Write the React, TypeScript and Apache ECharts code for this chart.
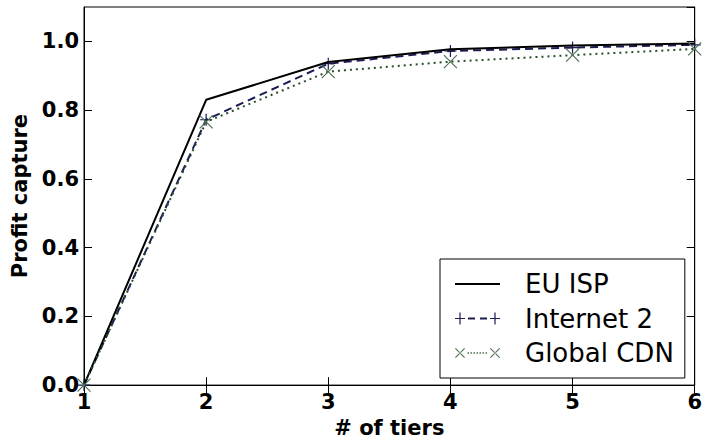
import React, { useEffect, useRef } from "react";
import * as echarts from "echarts";

const tiers = [1, 2, 3, 4, 5, 6];
const euIsp = [0, 0.83, 0.94, 0.977, 0.988, 0.994];
const internet2 = [0, 0.772, 0.935, 0.972, 0.982, 0.99];
const globalCdn = [0, 0.766, 0.912, 0.941, 0.96, 0.978];
const seriesNames = ["EU ISP", "Internet 2", "Global CDN"];

const FONT = "DejaVu Sans";
const PLUS = "path://M5,0L5,10M0,5L10,5";
const CROSS = "path://M0,0L10,10M10,0L0,10";

const NAVY = "#1c1c55";
const GREEN = "#27502a";
const GREEN_MARK = "#4f7252";

// Legend icons (filled shapes, 45 wide)
const ICON_SOLID = "path://M0,6H45V8H0Z";
const plusAt = (cx: number) =>
  `M${cx - 5},6.4H${cx + 5}V7.6H${cx - 5}Z M${cx - 0.6},1H${cx + 0.6}V13H${cx - 0.6}Z`;
const ICON_DASH =
  "path://" + plusAt(5) + " " + plusAt(40) + " M13,6H20V8H13Z M25,6H32V8H25Z";
const crossAt = (x0: number) =>
  `M${x0},1.8L${x0 + 0.8},1L${x0 + 10},10.2L${x0 + 9.2},11Z M${x0 + 10},1.8L${x0 + 9.2},1L${x0},10.2L${x0 + 0.8},11Z`;
let dots = "";
for (let x = 12.5; x < 32; x += 3) dots += ` M${x},5.25H${x + 1.5}V6.75H${x}Z`;
const ICON_DOT = "path://" + crossAt(0) + " " + crossAt(35) + dots;

export default function App() {
  const ref = useRef<HTMLDivElement>(null);
  useEffect(() => {
    if (!ref.current) return;
    const chart = echarts.init(ref.current, undefined, { renderer: "svg" });
    const pts = (ys: number[]) => tiers.map((x, i) => [x, ys[i]]);
    const labelStyle = { fontFamily: FONT, fontWeight: "bold", fontSize: 21, color: "#000" };
    const axisLine = { show: true, lineStyle: { color: "#000", width: 1 } };
    const tick = { show: true, inside: true, length: 8, lineStyle: { color: "#000", width: 1 } };
    chart.setOption({
      animation: false,
      backgroundColor: "#fff",
      grid: { left: 84, right: 6, top: 7, bottom: 50, show: true, borderColor: "#000", borderWidth: 1 },
      xAxis: [
        {
          type: "value", min: 1, max: 6, interval: 1, position: "bottom",
          axisLine, axisTick: tick, splitLine: { show: false },
          axisLabel: { ...labelStyle, margin: 6 },
          name: "# of tiers", nameLocation: "middle", nameGap: 29,
          nameTextStyle: { ...labelStyle },
        },
        {
          type: "value", min: 1, max: 6, interval: 1, position: "top",
          axisLine, axisTick: tick, splitLine: { show: false },
          axisLabel: { show: false },
        },
      ],
      yAxis: [
        {
          type: "value", min: 0, max: 1.1, interval: 0.2, position: "left",
          axisLine, axisTick: tick, splitLine: { show: false },
          axisLabel: { ...labelStyle, margin: 5, showMaxLabel: false, formatter: (v: number) => v.toFixed(1) },
          name: "Profit capture", nameLocation: "middle", nameGap: 48,
          nameTextStyle: { ...labelStyle },
        },
        {
          type: "value", min: 0, max: 1.1, interval: 0.2, position: "right",
          axisLine, axisTick: tick, splitLine: { show: false },
          axisLabel: { show: false },
        },
      ],
      legend: {
        orient: "vertical", left: 440, top: 259,
        backgroundColor: "#fff", borderColor: "#000", borderWidth: 1, borderRadius: 0,
        padding: [10, 11, 10, 15], itemGap: 4.5, itemWidth: 45, itemHeight: 14,
        textStyle: { fontFamily: FONT, fontSize: 26, color: "#000", lineHeight: 30, padding: [0, 0, 0, 20] },
        data: [
          { name: seriesNames[0], icon: ICON_SOLID, itemStyle: { color: "#000", borderWidth: 0 } },
          { name: seriesNames[1], icon: ICON_DASH, itemStyle: { color: NAVY, borderWidth: 0 } },
          { name: seriesNames[2], icon: ICON_DOT, itemStyle: { color: GREEN_MARK, borderWidth: 0 } },
        ],
      },
      series: [
        {
          name: seriesNames[0], type: "line", data: pts(euIsp), symbol: "none", z: 4,
          lineStyle: { color: "#000", width: 2, type: "solid" }, itemStyle: { color: "#000" },
        },
        {
          name: seriesNames[1], type: "line", data: pts(internet2), z: 3,
          symbol: PLUS, symbolSize: 12, showSymbol: true,
          lineStyle: { color: NAVY, width: 2, type: [8, 5] },
          itemStyle: { color: "none", borderColor: NAVY, borderWidth: 1.2 },
        },
        {
          name: seriesNames[2], type: "line", data: pts(globalCdn), z: 5,
          symbol: CROSS, symbolSize: 13, showSymbol: true,
          lineStyle: { color: GREEN, width: 2, type: [2, 4] },
          itemStyle: { color: "none", borderColor: GREEN_MARK, borderWidth: 1.2 },
        },
      ],
    });
    return () => chart.dispose();
  }, []);
  return <div ref={ref} style={{ position: "fixed", left: 0, top: 0, width: 705, height: 443 }} />;
}
